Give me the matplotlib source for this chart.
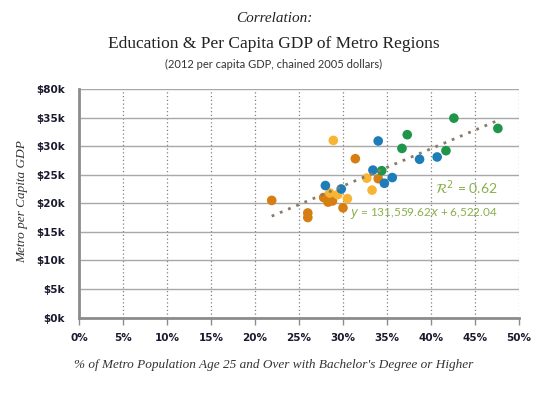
import numpy as np
import matplotlib
matplotlib.use("Agg")
import matplotlib.pyplot as plt

# data (x: % with bachelor's degree, y: per capita GDP in $k)
orange_x = [21.9, 26.0, 26.0, 31.4, 27.8, 28.3, 28.8, 30.0, 34.0]
orange_y = [20.5, 18.3, 17.5, 27.8, 21.0, 20.2, 20.4, 19.2, 24.3]
yellow_x = [28.9, 28.5, 29.4, 30.5, 32.7, 33.3]
yellow_y = [31.0, 21.8, 21.5, 20.8, 24.4, 22.3]
blue_x = [34.0, 28.0, 29.8, 33.4, 34.7, 35.6, 38.7, 40.7]
blue_y = [30.9, 23.1, 22.5, 25.8, 23.5, 24.5, 27.7, 28.1]
green_x = [34.4, 36.7, 37.3, 41.7, 42.6, 47.6]
green_y = [25.7, 29.6, 32.0, 29.2, 34.9, 33.1]

x_ticks = [0, 5, 10, 15, 20, 25, 30, 35, 40, 45, 50]
x_labels = ["0%", "5%", "10%", "15%", "20%", "25%", "30%", "35%", "40%", "45%", "50%"]
y_ticks = [0, 5, 10, 15, 20, 25, 30, 35, 40]
y_labels = ["$0k", "$5k", "$10k", "$15k", "$20k", "$25k", "$30k", "$35k", "$80k"]

r2_text = r"$\mathcal{R}^2$ = 0.62"
eq_text = r"$y$ = 131,559.62$x$ + 6,522.04"

fig = plt.figure(figsize=(5.48, 3.96), dpi=100)
ax = fig.add_axes([79/548, 1-317.5/396, 440/548, (317.5-89)/396])

groups = [
    (orange_x, orange_y, "#D67E12"),
    (yellow_x, yellow_y, "#F8B533"),
    (blue_x, blue_y, "#1D7DB8"),
    (green_x, green_y, "#1E9548"),
]
for gx, gy, c in groups:
    ax.scatter(gx, gy, s=48, color=c, edgecolors="none", zorder=3)

all_x = np.array(orange_x + yellow_x + blue_x + green_x)
all_y = np.array(orange_y + yellow_y + blue_y + green_y)
m, b = np.polyfit(all_x, all_y, 1)
lx = np.array([all_x.min(), all_x.max()])
ax.plot(lx, m*lx + b, linestyle=(0, (1, 2.2)), color="#8A7A6A", lw=2, zorder=4)

ax.set_xlim(0, 50)
ax.set_ylim(0, 40)
ax.set_xticks(x_ticks)
ax.set_xticklabels(x_labels)
ax.set_yticks(y_ticks)
ax.set_yticklabels(y_labels)

for s in ["top", "right"]:
    ax.spines[s].set_visible(False)
for s in ["left", "bottom"]:
    ax.spines[s].set_color("#8C8C8C")
    ax.spines[s].set_linewidth(2)

ax.yaxis.grid(True, color="#A8A8A8", lw=1)
ax.xaxis.grid(True, color="#808080", lw=0.9, linestyle=(0, (1, 2)))
ax.set_axisbelow(True)

ax.tick_params(axis="x", length=5, width=1, color="#8C8C8C", pad=6,
               labelsize=7.5, labelcolor="#1A1A2E")
ax.tick_params(axis="y", length=0, pad=10, labelsize=7.5, labelcolor="#1A1A2E")
for lab in ax.get_xticklabels() + ax.get_yticklabels():
    lab.set_fontweight("bold")
    lab.set_family("DejaVu Sans")

green_txt = "#8AAE4C"
ax.text(47.6, 22.8, r2_text, color=green_txt, fontsize=10, ha="right", va="center",
        family="Lato")
ax.text(47.6, 18.2, eq_text, color=green_txt, fontsize=8.5, ha="right", va="center",
        family="Lato")

serif = "Liberation Serif"
fig.text(0.5, 1-19/396, "Correlation:", ha="center", va="center", family=serif,
         style="italic", fontsize=11, color="#222222")
fig.text(0.5, 1-44/396, "Education & Per Capita GDP of Metro Regions", ha="center",
         va="center", family=serif, fontsize=12.5, color="#222222")
fig.text(0.5, 1-64/396, "(2012 per capita GDP, chained 2005 dollars)", ha="center",
         va="center", family="Lato", fontsize=8, color="#333333")
fig.text(22/548, 1-202/396, "Metro per Capita GDP", rotation=90, ha="center",
         va="center", family=serif, style="italic", fontsize=9.5, color="#333333")
fig.text(0.5, 1-365/396,
         "% of Metro Population Age 25 and Over with Bachelor's Degree or Higher",
         ha="center", va="center", family=serif, style="italic", fontsize=9.5,
         color="#333333")

fig.savefig("out.png", dpi=100)
